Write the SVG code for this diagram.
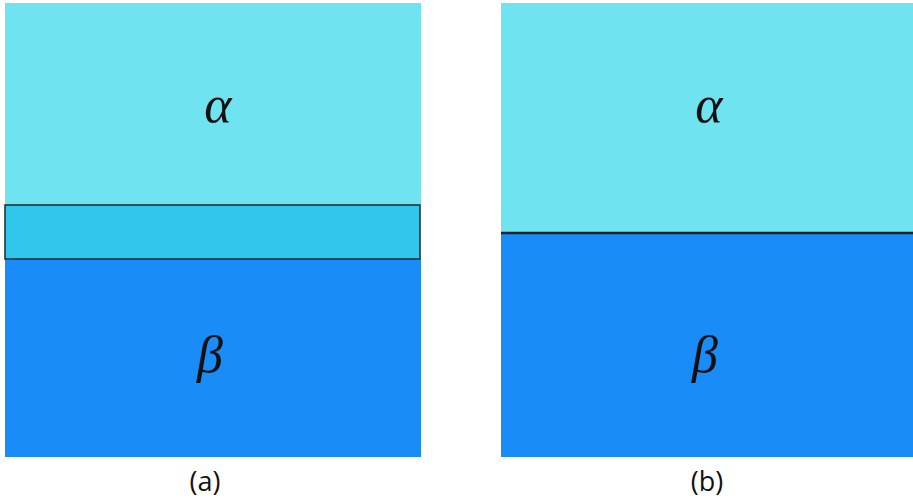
<svg xmlns="http://www.w3.org/2000/svg" width="913" height="503" viewBox="0 0 913 503">
<style>
.alpha{fill:#6FE3EF}
.beta{fill:#1A8CF8}
.greek{font-family:"Liberation Serif",serif;font-style:italic;font-size:52px;fill:#111;text-anchor:middle}
.cap{font-family:"Open Sans","Noto Sans",sans-serif;font-size:27px;fill:#111;text-anchor:middle}
</style>
<rect width="913" height="503" fill="#fff"/>
<g id="panel-a">
<rect class="alpha" x="5" y="3" width="416" height="202"/>
<rect class="beta" x="5" y="259" width="416" height="198"/>
<rect x="5" y="205" width="415" height="54" fill="#31C6EB" stroke="#263238" stroke-width="1.6"/>
<text class="greek" x="218" y="122">α</text>
<text class="greek" x="210" y="372">β</text>
<text class="cap" x="205" y="491">(a)</text>
</g>
<g id="panel-b">
<rect class="alpha" x="501" y="3" width="412" height="230"/>
<rect class="beta" x="501" y="233" width="412" height="224"/>
<line x1="501" y1="233" x2="913" y2="233" stroke="#1c2228" stroke-width="2.6"/>
<text class="greek" x="709" y="122">α</text>
<text class="greek" x="705" y="372">β</text>
<text class="cap" x="707" y="491">(b)</text>
</g>
</svg>
